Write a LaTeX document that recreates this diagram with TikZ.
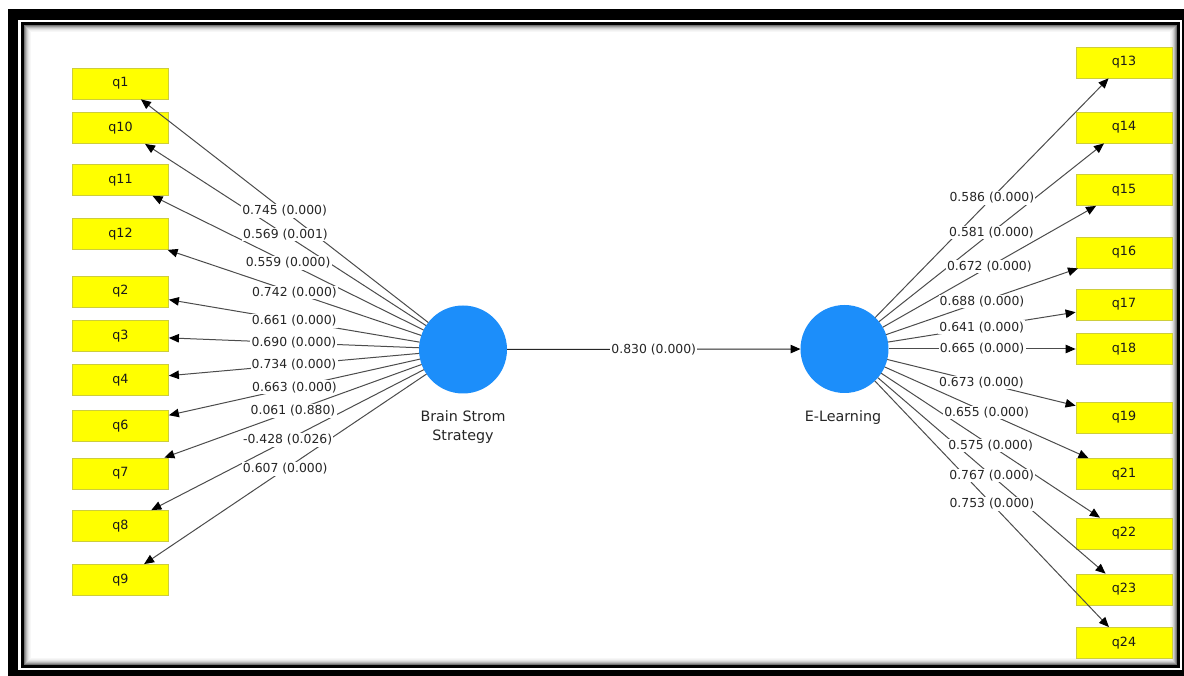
\documentclass[tikz,border=0pt]{standalone}
\usepackage{fontspec}
\setmainfont{DejaVu Sans}
\usetikzlibrary{arrows.meta}
\definecolor{plsblue}{RGB}{28,142,250}
\definecolor{boxyellow}{RGB}{255,255,0}
\definecolor{boxedge}{RGB}{205,205,60}
\begin{document}
\begin{tikzpicture}[x=1pt,y=-1pt,
  ind/.style={draw=boxedge, fill=boxyellow, line width=0.8pt, minimum width=96pt, minimum height=31pt, inner sep=0pt, font=\fontsize{12.7}{15}\selectfont, text=black!90},
  lv/.style={circle, fill=plsblue, minimum size=88pt, inner sep=0pt, outer sep=0pt},
  con/.style={draw=black!70, line width=1pt, -{Triangle[length=10pt,width=8.5pt,color=black]}},
  lbl/.style={fill=white, inner sep=1.2pt, font=\fontsize{12.4}{14}\selectfont, text=black!85},
  lvname/.style={font=\fontsize{14.3}{19}\selectfont, align=center, text=black!85}]
\useasboundingbox (0,0) rectangle (1184,676);
% frame
\fill[black] (8,9) rectangle (1184,676);
\fill[white] (18,20) rectangle (1182,670);
\fill[black] (20.5,22.5) rectangle (1180,667.5);
\fill[white] (23.5,25.5) rectangle (1177,664.5);
\foreach \i/\c in {0/55,1/40,2/28,3/18,4/11,5/6,6/3}
  \draw[black!\c, line width=1pt] (24+\i,26+\i) rectangle (1176.5-\i,664-\i);
% indicators left
\foreach \n/\y in {q1/83.5,q10/128,q11/180,q12/234,q2/291.5,q3/336,q4/380,q6/426,q7/473.5,q8/526,q9/580}
  \node[ind] (\n) at (120.5,\y) {\n};
% indicators right
\foreach \n/\y in {q13/62.5,q14/127.5,q15/190,q16/252.5,q17/304.5,q18/349,q19/417.5,q21/474,q22/533.5,q23/589.5,q24/643}
  \node[ind] (\n) at (1124,\y) {\n};
% latent variables
\node[lv] (bs) at (463,349.5) {};
\node[lv] (el) at (844.5,349) {};
\node[lvname] (bsname) at (463,427.5) {Brain Strom\\Strategy};
\node[lvname] (elname) at (843,418) {E-Learning};
% connectors
\foreach \n in {q1,q10,q11,q12,q2,q3,q4,q6,q7,q8,q9}
  \draw[con] (bs) -- coordinate[midway] (m\n) (\n);
\foreach \n in {q13,q14,q15,q16,q17,q18,q19,q21,q22,q23,q24}
  \draw[con] (el) -- coordinate[midway] (m\n) (\n);
\draw[con, draw=black!85] (bs) -- coordinate[midway] (mmid) (el);
% labels
\foreach \n/\v in {q1/0.745 (0.000),q10/0.569 (0.001),q11/0.559 (0.000),q12/0.742 (0.000),q2/0.661 (0.000),q3/0.690 (0.000),q4/0.734 (0.000),q6/0.663 (0.000),q7/0.061 (0.880),q8/-0.428 (0.026),q9/0.607 (0.000),q13/0.586 (0.000),q14/0.581 (0.000),q15/0.672 (0.000),q16/0.688 (0.000),q17/0.641 (0.000),q18/0.665 (0.000),q19/0.673 (0.000),q21/0.655 (0.000),q22/0.575 (0.000),q23/0.767 (0.000),q24/0.753 (0.000)}
  \node[lbl] (l\n) at (m\n) {\v};
\node[lbl] (lmid) at (mmid) {0.830 (0.000)};
\end{tikzpicture}
\end{document}
